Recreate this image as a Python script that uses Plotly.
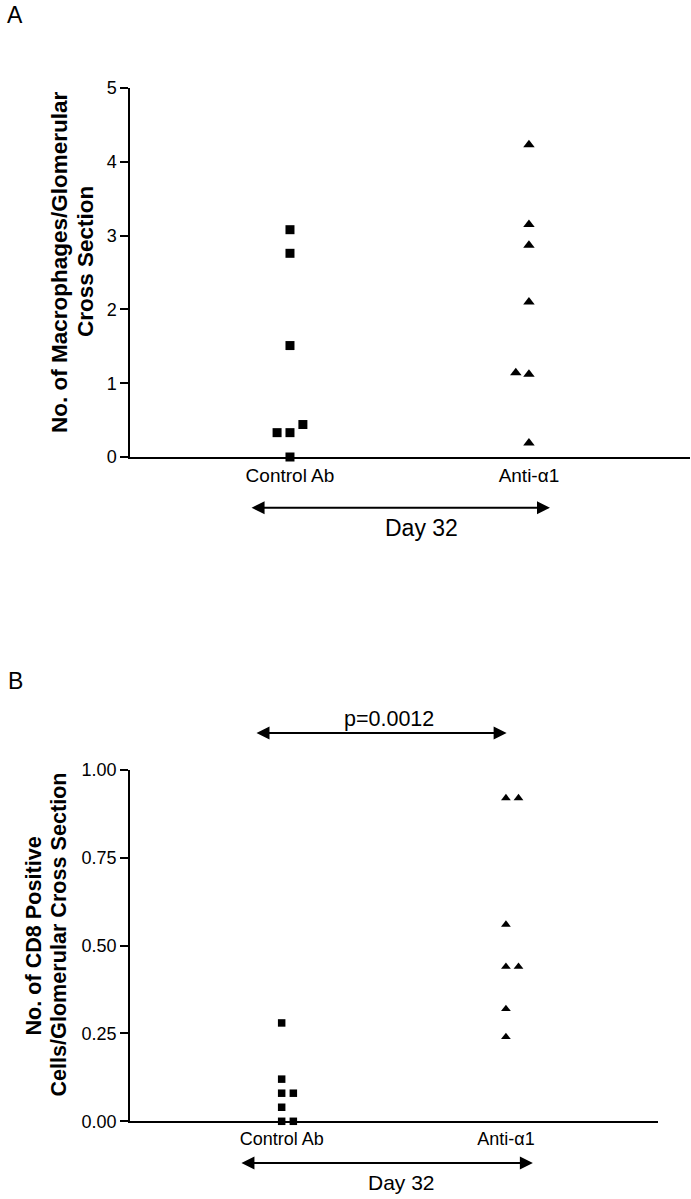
import plotly.graph_objects as go

# ---------------- data ----------------
categories = ["Control Ab", "Anti-α1"]

# Panel A: macrophages / glomerular cross section
a_control = [3.08, 2.76, 1.51, 0.33, 0.33, 0.44, 0.00]
a_control_slot = [0, 0, 0, -1, 0, 1, 0]
a_anti = [4.23, 3.15, 2.87, 2.10, 1.14, 1.12, 0.19]
a_anti_slot = [0, 0, 0, 0, -1, 0, 0]
a_ticks = [0, 1, 2, 3, 4, 5]
a_title = ["No. of Macrophages/Glomerular", "Cross Section"]

# Panel B: CD8 positive cells / glomerular cross section
b_control = [0.28, 0.12, 0.08, 0.08, 0.04, 0.00, 0.00]
b_control_slot = [0, 0, 0, 1, 0, 0, 1]
b_anti = [0.92, 0.92, 0.56, 0.44, 0.44, 0.32, 0.24]
b_anti_slot = [0, 1, 0, 0, 1, 0, 0]
b_ticks = [0.0, 0.25, 0.50, 0.75, 1.00]
b_title = ["No. of CD8 Positive", "Cells/Glomerular Cross Section"]

p_text = "p=0.0012"
day_text = "Day 32"

# ---------------- layout helpers ----------------
W, H = 691, 1199
FONT = "Liberation Sans, Arial, Helvetica, sans-serif"


def px_x(p):
    return p / W


def px_y(p):
    return 1 - p / H


def xs(cat_idx, slots, step):
    return [cat_idx + s * step for s in slots]


fig = go.Figure()

# Panel A traces
fig.add_trace(go.Scatter(x=xs(1, a_control_slot, 0.054), y=a_control, mode="markers",
                         marker=dict(symbol="square", size=9, color="black"),
                         xaxis="x", yaxis="y", cliponaxis=False, showlegend=False))
fig.add_trace(go.Scatter(x=xs(2, a_anti_slot, 0.055), y=a_anti, mode="markers",
                         marker=dict(symbol="triangle-up", size=10, color="black"),
                         xaxis="x", yaxis="y", cliponaxis=False, showlegend=False))
# Panel B traces
fig.add_trace(go.Scatter(x=xs(1, b_control_slot, 0.052), y=b_control, mode="markers",
                         marker=dict(symbol="square", size=7.5, color="black"),
                         xaxis="x2", yaxis="y2", cliponaxis=False, showlegend=False))
fig.add_trace(go.Scatter(x=xs(2, b_anti_slot, 0.056), y=b_anti, mode="markers",
                         marker=dict(symbol="triangle-up", size=8.5, color="black"),
                         xaxis="x2", yaxis="y2", cliponaxis=False, showlegend=False))

axis_common = dict(showline=True, linecolor="black", linewidth=1.5, showgrid=False,
                   zeroline=False, color="black", automargin=False)

fig.update_layout(
    template="none",
    width=W, height=H,
    margin=dict(l=0, r=0, t=0, b=0, pad=0, autoexpand=False),
    paper_bgcolor="white", plot_bgcolor="white",
    font=dict(family=FONT, color="black"),
    xaxis=dict(domain=[px_x(130), px_x(690)], range=[0.3305, 2.674],
               tickvals=[1, 2], ticktext=categories, ticks="",
               tickfont=dict(size=19), anchor="y", **axis_common),
    yaxis=dict(domain=[px_y(457), px_y(88)], range=[0, 5],
               tickvals=a_ticks, ticks="outside", ticklen=8, tickwidth=1.5,
               tickcolor="black", tickfont=dict(size=18), anchor="x", **axis_common),
    xaxis2=dict(domain=[px_x(130), px_x(658)], range=[0.3237, 2.678],
                tickvals=[1, 2], ticktext=categories, ticks="",
                tickfont=dict(size=18), anchor="y2", **axis_common),
    yaxis2=dict(domain=[px_y(1121.3), px_y(770)], range=[0, 1],
                tickvals=b_ticks, tickformat=".2f", ticks="outside", ticklen=8,
                tickwidth=1.5, tickcolor="black", tickfont=dict(size=18),
                anchor="x2", **axis_common),
)


def label(text, xpx, ypx, size, bold=False, angle=0, xref="paper", x=None):
    return dict(text=f"<b>{text}</b>" if bold else text,
                x=px_x(xpx) if x is None else x, y=px_y(ypx),
                xref=xref, yref="paper", textangle=angle,
                xanchor="center", yanchor="middle", showarrow=False,
                font=dict(size=size))


annotations = [
    label("A", 15, 15, 23),
    label("B", 15, 681, 23),
    # y titles, one annotation per line for tight line spacing
    label(a_title[0], 59, 262, 22.5, bold=True, angle=-90),
    label(a_title[1], 85, 262, 22.5, bold=True, angle=-90),
    label(b_title[0], 32.5, 936, 21.6, bold=True, angle=-90),
    label(b_title[1], 57.5, 935, 21.6, bold=True, angle=-90),
    # Day 32 labels and p value
    label(day_text, 0, 528, 23, xref="x", x=1.55),
    label(day_text, 0, 1182, 21, xref="x2", x=1.535),
    label(p_text, 0, 719, 21.5, xref="x2", x=1.48),
]


def dbl_arrow(xref, x0, x1, ypx):
    return dict(text="", x=x1, y=px_y(ypx), ax=x0, ay=0,
                xref=xref, yref="paper", axref=xref, ayref="pixel",
                showarrow=True, arrowside="end+start", arrowhead=2, startarrowhead=2,
                arrowsize=1.3, startarrowsize=1.3, arrowwidth=2, arrowcolor="black",
                standoff=0, startstandoff=0)


annotations += [
    dbl_arrow("x", 0.833, 2.088, 507.7),
    dbl_arrow("x2", 0.881, 2.003, 733),
    dbl_arrow("x2", 0.814, 2.12, 1163),
]

fig.update_layout(annotations=annotations)

fig.write_html("out.html",
               config={"displayModeBar": False},
               post_script="document.body.style.margin='0';"
                           "document.body.style.overflow='hidden';")
